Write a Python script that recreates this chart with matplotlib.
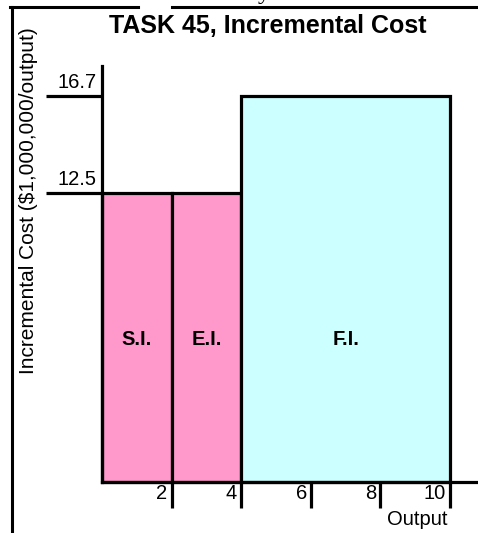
import matplotlib
matplotlib.use("Agg")
import matplotlib.pyplot as plt
from matplotlib.lines import Line2D
from matplotlib.transforms import ScaledTranslation

plt.rcParams['font.family'] = ['Liberation Sans', 'DejaVu Sans']

# ---- data ----
categories = ["S.I.", "E.I.", "F.I."]
bar_left = [0, 2, 4]
bar_width = [2, 2, 6]
bar_height = [12.5, 12.5, 16.7]
bar_colors = ["#FF99CC", "#FF99CC", "#CCFFFF"]
label_y = 6.15
y_ticks = [12.5, 16.7]
y_tick_labels = ["12.5", "16.7"]
x_ticks = [2, 4, 6, 8, 10]
x_tick_labels = ["2", "4", "6", "8", "10"]
title = "TASK 45, Incremental Cost"
ylabel = "Incremental Cost ($1,000,000/output)"
xlabel = "Output"

W, H = 478, 533
fig = plt.figure(figsize=(W / 100, H / 100), dpi=100)
fig.patch.set_facecolor("white")

# axes placement (pixels)
x0_px, y0_px = 102, 482
px_per_x, px_per_y = 34.8, 23.1
xmax, ymax = 10.8, 18.0
ax = fig.add_axes([x0_px / W, (H - y0_px) / H, xmax * px_per_x / W, ymax * px_per_y / H])
ax.set_xlim(0, xmax)
ax.set_ylim(0, ymax)
ax.patch.set_alpha(0)

lw = 2.3
for s in ["top", "right"]:
    ax.spines[s].set_visible(False)
for s in ["left", "bottom"]:
    ax.spines[s].set_linewidth(lw)
    ax.spines[s].set_zorder(5)

# bars
ax.bar(bar_left, bar_height, width=bar_width, align="edge", color=bar_colors,
       edgecolor="black", linewidth=lw, zorder=3, clip_on=False)
for l, w, c in zip(bar_left, bar_width, categories):
    ax.text(l + w / 2, label_y, c, ha="center", va="center", fontsize=14.5,
            fontweight="bold", zorder=6)

# y ticks
ylen = 56 * 0.72
ax.set_yticks(y_ticks)
ax.set_yticklabels(y_tick_labels, fontsize=14.5)
ax.tick_params(axis="y", direction="out", length=ylen, width=lw, pad=-(ylen - 4.0))
for lab in ax.get_yticklabels():
    lab.set_va("bottom")
    lab.set_transform(lab.get_transform() + ScaledTranslation(0, 4 / 100, fig.dpi_scale_trans))

# x ticks
xlen = 26 * 0.72
ax.set_xticks(x_ticks)
ax.set_xticklabels(x_tick_labels, fontsize=14.5)
ax.tick_params(axis="x", direction="out", length=xlen, width=lw, pad=-(xlen - 1.5))
for lab in ax.get_xticklabels():
    lab.set_ha("right")
    lab.set_transform(lab.get_transform() + ScaledTranslation(-4 / 100, 0, fig.dpi_scale_trans))

# x label
ax.annotate(xlabel, xy=(10, 0), xycoords="data", xytext=(-2, -28),
            textcoords="offset pixels", ha="right", va="top", fontsize=14.5,
            annotation_clip=False)

# y label and title
fig.text(29 / W, 1 - 200.5 / H, ylabel, rotation=90, ha="center", va="center", fontsize=15)
fig.text(268 / W, 1 - 33 / H, title, ha="center", va="baseline", fontsize=18, fontweight="bold")

# slide frame artifacts
fig.add_artist(Line2D([11.5 / W, 11.5 / W], [1 - 7 / H, 0], transform=fig.transFigure,
                      color="black", linewidth=2.2))
fig.add_artist(Line2D([10 / W, 138 / W], [1 - 7 / H, 1 - 7 / H], transform=fig.transFigure,
                      color="black", linewidth=2.2))
fig.add_artist(Line2D([172 / W, 1], [1 - 7 / H, 1 - 7 / H], transform=fig.transFigure,
                      color="black", linewidth=2.2))
fig.text(258 / W, 1 + 1 / H, "y", ha="left", va="baseline", fontsize=18,
         family="Liberation Serif")

fig.savefig("out.png", dpi=100, facecolor="white")
